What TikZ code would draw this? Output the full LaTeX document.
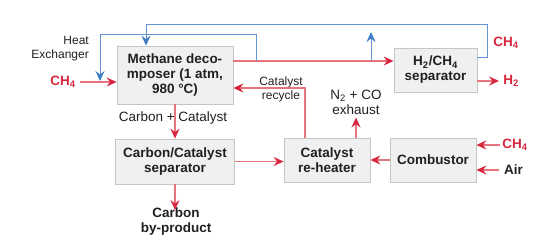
\documentclass[tikz,border=0pt]{standalone}
\usepackage{fontspec}
\setmainfont{Liberation Sans}
\usetikzlibrary{arrows.meta}
\definecolor{cred}{HTML}{D7263D}
\definecolor{credl}{HTML}{E8737F}
\definecolor{cblue}{HTML}{3F7CC7}
\definecolor{cbluel}{HTML}{6493D3}
\definecolor{cbox}{HTML}{EFF0F0}
\definecolor{cedge}{HTML}{C4C6C6}
\definecolor{ctext}{HTML}{231F20}

\begin{document}
\begin{tikzpicture}[x=1pt,y=-1pt,
  box/.style={draw=cedge,fill=cbox,line width=0.8pt,align=center,text=ctext,
    font=\fontsize{13.5}{15}\selectfont\bfseries,inner sep=2pt},
  lbl/.style={align=center,text=ctext,font=\fontsize{13.5}{15}\selectfont,inner sep=1pt},
  small/.style={lbl,font=\fontsize{12}{14}\selectfont},
  flow/.style={draw=credl,line width=1.3pt,-{Stealth[length=10pt,width=9pt,inset=3.5pt,color=cred]}},
  heat/.style={draw=cbluel,line width=1pt,-{Stealth[length=10pt,width=9pt,inset=3.5pt,color=cblue]}},
  gas/.style={lbl,font=\fontsize{13.5}{15}\selectfont\bfseries,text=cred}]
  \useasboundingbox (0,0) rectangle (555,250);
  % units
  \node[box,minimum width=116pt,minimum height=58pt] (dec) at (175,75) {Methane deco-\\mposer (1 atm,\\980 °C)};
  \node[box,minimum width=83pt,minimum height=44pt] (sep) at (435.5,70) {H\textsubscript{2}/CH\textsubscript{4}\\separator};
  \node[box,minimum width=119pt,minimum height=45pt] (ccs) at (175,161.5) {Carbon/Catalyst\\separator};
  \node[box,minimum width=86pt,minimum height=44pt] (reh) at (327,160) {Catalyst\\re-heater};
  \node[box,minimum width=86pt,minimum height=44pt] (comb) at (433,160) {Combustor};
  % streams
  \node[gas] (ch4a) at (63,82) {CH\textsubscript{4}};
  \node[gas] (ch4b) at (506,43) {CH\textsubscript{4}};
  \node[gas] (h2) at (511,81) {H\textsubscript{2}};
  \node[gas] (ch4c) at (515,145) {CH\textsubscript{4}};
  \node[lbl,font=\fontsize{13.5}{15}\selectfont\bfseries] (air) at (513.5,170) {Air};
  \node[lbl,font=\fontsize{13.5}{15}\selectfont\bfseries] (carb) at (176,222) {Carbon\\by-product};
  \node[lbl] (cc) at (173,118) {Carbon + Catalyst};
  \node[lbl] (exh) at (356,102) {N\textsubscript{2} + CO\\exhaust};
  \node[small,align=right,anchor=east] (hex) at (90,49) {Heat\\Exchanger};
  \node[small] (rcy) at (281,89.5) {Catalyst\\recycle};
  \coordinate (hx) at (256,61);
  \coordinate (up) at (371,32);
  \coordinate (rc) at (305,88);
  \coordinate (cr) at (487,57);
  \coordinate (loop) at (487,24);
  \coordinate (hxe) at (100,81);
  \coordinate (hxt) at (0,34);
  % red flows
  \draw[flow] (ch4a.east) ++(3,0) -- (dec.west |- ch4a);
  \draw[flow] (dec.east |- hx) -- (sep.west |- hx);
  \draw[flow] (sep.east |- h2) -- ([xshift=-3pt]h2.west);
  \draw[flow] (dec.south) -- (ccs.north);
  \draw[flow] (ccs.south) -- ([yshift=-3pt]ccs.south |- carb.north);
  \draw[flow] (ccs.east) -- (reh.west |- ccs.east);
  \draw[flow] (comb.west) -- (reh.east);
  \draw[flow] ([xshift=-1pt]ch4c.west) -- (comb.east |- ch4c);
  \draw[flow] ([xshift=-4pt]air.west) -- (comb.east |- air);
  \draw[flow] (reh.north -| exh) -- ([yshift=-2pt]exh.south);
  \draw[flow] (reh.north -| rc) -- (rc) -- (dec.east |- rc);
  % heat exchange
  \draw[heat] (up |- hx) -- (up);
  \draw[heat] (hx) -- (hx |- hxt) -| (hxe);
  \draw[heat] (sep.east |- cr) -| (loop) -| ([xshift=-29pt]dec.north);
\end{tikzpicture}
\end{document}
